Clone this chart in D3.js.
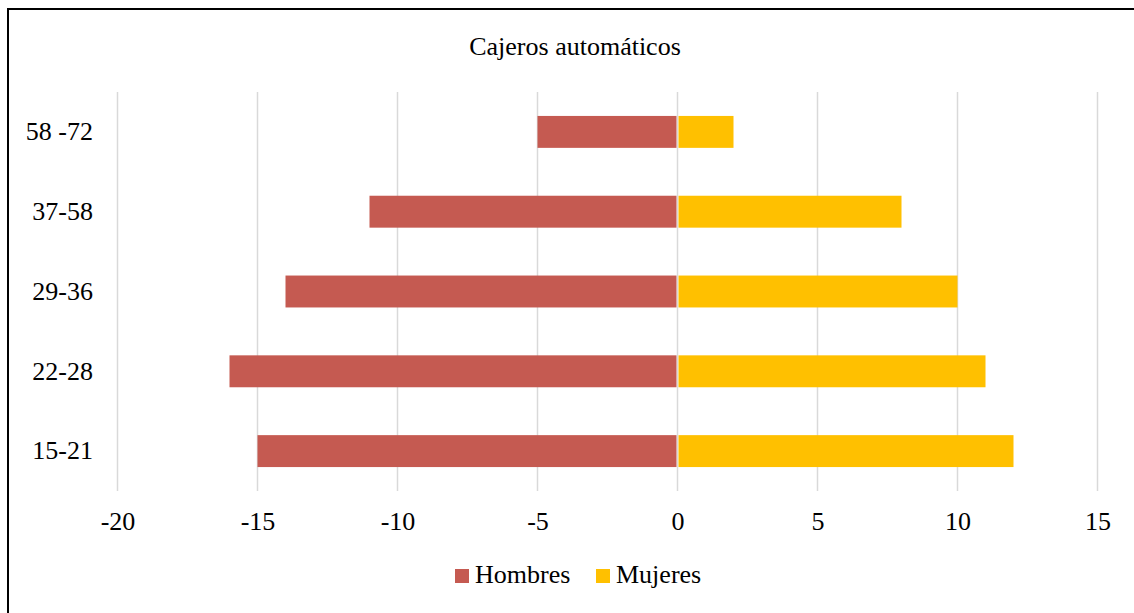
<!DOCTYPE html>
<html><head><meta charset="utf-8">
<script src="https://cdn.jsdelivr.net/npm/d3@7"></script>
<style>html,body{margin:0;padding:0;background:#fff;} svg{display:block;}</style>
</head><body>
<script>
const categories = ["58 -72", "37-58", "29-36", "22-28", "15-21"];
const hombres = [-5, -11, -14, -16, -15];
const mujeres = [2, 8, 10, 11, 12];
const xTicks = [-20, -15, -10, -5, 0, 5, 10, 15];
const seriesNames = ["Hombres", "Mujeres"];
const colors = ["#C55A51", "#FFC000"];
const title = "Cajeros automáticos";

const W = 1134, H = 613;
const svg = d3.select("body").append("svg").attr("width", W).attr("height", H);
const font = "'Liberation Serif','Times New Roman',serif";

svg.append("rect").attr("x", 8).attr("y", 9).attr("width", W + 20).attr("height", H + 20)
  .attr("fill", "#fff").attr("stroke", "#000").attr("stroke-width", 2);

const x = d3.scaleLinear().domain([-20, 15]).range([117.5, 1097.5]);
const y = d3.scaleBand().domain(categories).range([92, 491]).paddingInner(0.6).paddingOuter(0.3);

// gridlines
svg.append("g").selectAll("line").data(xTicks).join("line")
  .attr("x1", d => x(d)).attr("x2", d => x(d))
  .attr("y1", 92).attr("y2", 491)
  .attr("stroke", "#D9D9D9").attr("stroke-width", 1.5);

const data = [hombres, mujeres];
data.forEach((vals, si) => {
  svg.append("g").selectAll("rect").data(vals).join("rect")
    .attr("x", d => x(Math.min(0, d)) + (d < 0 ? 0 : 1))
    .attr("width", d => Math.abs(x(d) - x(0)) - 1)
    .attr("y", (d, i) => y(categories[i]))
    .attr("height", y.bandwidth())
    .attr("fill", colors[si]);
});

// x axis labels
const xAxis = d3.axisBottom(x).tickValues(xTicks).tickFormat(d => String(d)).tickSize(0).tickPadding(0);
const gx = svg.append("g").attr("transform", "translate(0,512)").call(xAxis);
gx.select(".domain").remove();
gx.selectAll("text").attr("font-family", font).attr("font-size", 26).attr("fill", "#000").attr("dy", "0.71em");

// y axis labels
const yAxis = d3.axisLeft(y).tickSize(0).tickPadding(0);
const gy = svg.append("g").attr("transform", "translate(93,0)").call(yAxis);
gy.select(".domain").remove();
gy.selectAll("text").attr("font-family", font).attr("font-size", 26).attr("fill", "#000");

svg.append("text").attr("x", 575).attr("y", 55).attr("text-anchor", "middle")
  .attr("font-family", font).attr("font-size", 26).attr("fill", "#000").text(title);

// legend
const legX = [455, 596];
seriesNames.forEach((n, i) => {
  svg.append("rect").attr("x", legX[i]).attr("y", 569).attr("width", 14).attr("height", 14).attr("fill", colors[i]);
  svg.append("text").attr("x", legX[i] + 20).attr("y", 583).attr("font-family", font).attr("font-size", 26)
    .attr("fill", "#000").text(n);
});
</script>
</body></html>
